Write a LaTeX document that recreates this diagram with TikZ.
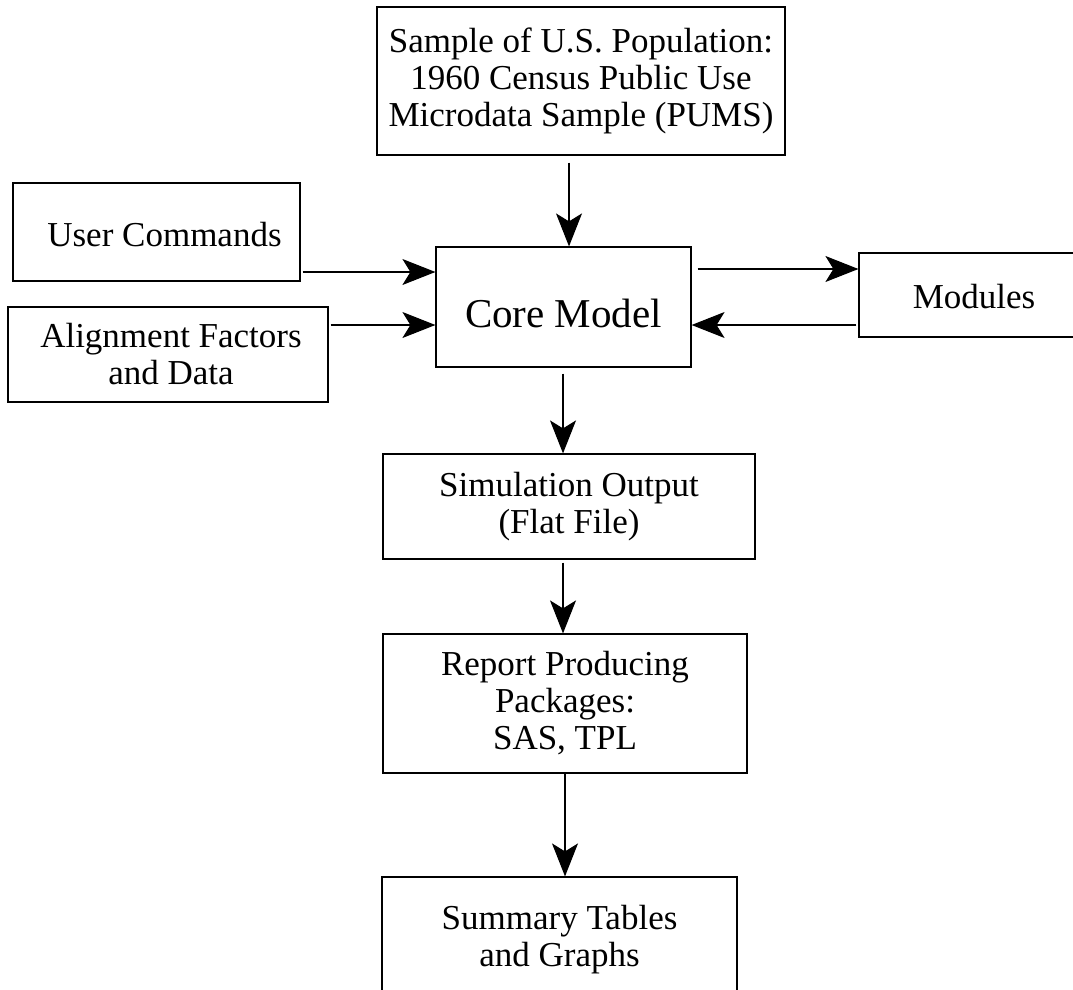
\documentclass[tikz,border=0pt]{standalone}
\usepackage{fontspec}
\setmainfont{Liberation Serif}
\usetikzlibrary{arrows.meta}

\begin{document}
\begin{tikzpicture}[x=1pt,y=-1pt,
  every node/.append style={draw,line width=1.2pt,align=center,inner sep=0pt,
    font=\fontsize{35}{37}\selectfont},
  arr/.style={draw,line width=1.1pt,-{Stealth[length=33pt,width=26pt,inset=8pt]}}]
\useasboundingbox (0,0) rectangle (1073,990);
\node[minimum width=408pt,minimum height=148pt] (pums) at (581,81)
  {Sample of U.S. Population:\\1960 Census Public Use\\Microdata Sample (PUMS)};
\node[minimum width=287pt,minimum height=98pt] (user) at (156.5,232) {\hspace*{16pt}\rule{0pt}{30pt}User Commands};
\node[minimum width=320pt,minimum height=95pt] (align) at (168,354.5) {\hspace*{6pt}Alignment Factors\\\hspace*{6pt}and Data};
\node[minimum width=255pt,minimum height=120pt,font=\fontsize{41}{43}\selectfont] (core) at (563.5,307) {\rule{0pt}{41pt}Core Model};
\node[minimum width=230pt,minimum height=84pt] (modules) at (974,295) {\rule{0pt}{28pt}Modules};
\node[minimum width=372pt,minimum height=105pt] (sim) at (569,506.5) {Simulation Output\\(Flat File)};
\node[minimum width=364pt,minimum height=139pt] (report) at (565,703.5) {Report Producing\\Packages:\\SAS, TPL};
\node[minimum width=355pt,minimum height=126pt] (summary) at (559.5,940) {Summary Tables\\and Graphs};

\draw[arr,shorten <=7pt] (pums.south -| 569,0) -- (core.north -| 569,0);
\draw[arr,shorten <=2pt] (user.east |- 0,272) -- (core.west |- 0,272);
\draw[arr,shorten <=2pt] (align.east |- 0,325) -- (core.west |- 0,325);
\draw[arr,shorten <=6pt] (core.east |- 0,269) -- (modules.west |- 0,269);
\draw[arr,shorten <=2pt] (modules.west |- 0,325) -- (core.east |- 0,325);
\draw[arr,shorten <=6pt] (core.south -| 563,0) -- (sim.north -| 563,0);
\draw[arr,shorten <=3pt] (sim.south -| 563,0) -- (report.north -| 563,0);
\draw[arr] (report.south -| 565,0) -- (summary.north -| 565,0);
\end{tikzpicture}
\end{document}
